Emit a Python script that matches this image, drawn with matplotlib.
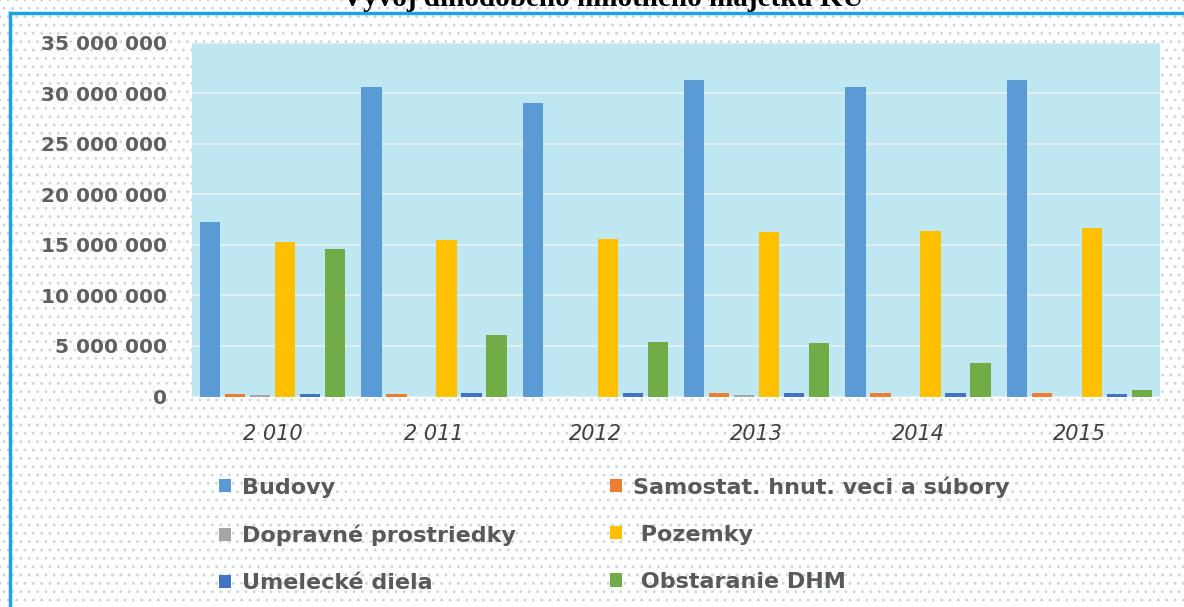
import matplotlib
matplotlib.use("Agg")
import matplotlib.pyplot as plt
import numpy as np
from matplotlib.patches import Rectangle
from matplotlib.lines import Line2D
from matplotlib.ticker import FuncFormatter

years = ["2 010", "2 011", "2012", "2013", "2014", "2015"]
series_names = ["Budovy", "Samostat. hnut. veci a súbory", "Dopravné prostriedky",
                " Pozemky", "Umelecké diela", " Obstaranie DHM"]
budovy = [17.3e6, 30.6e6, 29.0e6, 31.3e6, 30.6e6, 31.3e6]
samostat = [0.2e6, 0.2e6, 0.0, 0.33e6, 0.33e6, 0.3e6]
dopravne = [0.15e6, 0.0, 0.0, 0.15e6, 0.0, 0.0]
pozemky = [15.3e6, 15.5e6, 15.6e6, 16.25e6, 16.4e6, 16.65e6]
umelecke = [0.2e6, 0.33e6, 0.33e6, 0.33e6, 0.33e6, 0.25e6]
obstaranie = [14.6e6, 6.1e6, 5.4e6, 5.3e6, 3.3e6, 0.6e6]
colors = ["#5b9bd5", "#ed7d31", "#a5a5a5", "#ffc000", "#4472c4", "#70ad47"]
title = "Vývoj dlhodobého hmotného majetku KÚ"

plt.rcParams["hatch.linewidth"] = 0.9
W, H = 1184, 607
fig = plt.figure(figsize=(W / 100, H / 100), dpi=100)

# dotted background
bg = Rectangle((0, 0), 1, 1, transform=fig.transFigure, facecolor="white",
               edgecolor="#cfd6de", hatch="..", linewidth=0, zorder=-10)
fig.patches.append(bg)

# borders
fig.add_artist(Line2D([10 / W, 1], [1 - 13 / H, 1 - 13 / H], transform=fig.transFigure,
                      color="#1ba3e3", lw=2.5))
fig.add_artist(Line2D([10 / W, 10 / W], [0, 1 - 13 / H], transform=fig.transFigure,
                      color="#1ba3e3", lw=2.5))

fig.text(603 / W, 1 - 6 / H, title, ha="center", va="baseline",
         fontfamily="Liberation Serif", fontweight="bold", fontsize=21, color="black")

ax = fig.add_axes([192 / W, 1 - 396.5 / H, (1160 - 192) / W, (396.5 - 42.5) / H])
ax.set_facecolor("#bfe7f1")
for s in ax.spines.values():
    s.set_visible(False)

data = [budovy, samostat, dopravne, pozemky, umelecke, obstaranie]
x = np.arange(len(years))
pitch = 0.155
width = 0.125
handles = []
for i, (vals, name, c) in enumerate(zip(data, series_names, colors)):
    b = ax.bar(x + (i - 2.5) * pitch, vals, width=width, color=c, label=name, zorder=3)
    handles.append(b)

ax.set_xlim(-0.5, len(years) - 0.5)
ax.set_ylim(0, 35e6)
ax.set_yticks(np.arange(0, 35e6 + 1, 5e6))
ax.yaxis.set_major_formatter(FuncFormatter(lambda v, p: f"{int(v):,}".replace(",", " ")))
ax.grid(axis="y", color="#e6f3f6", lw=1.2, zorder=1)
ax.set_axisbelow(True)
ax.tick_params(axis="y", length=0, pad=18, labelsize=14.5, labelcolor="#5f5f5f")
ax.tick_params(axis="x", length=0, pad=20, labelsize=15, labelcolor="#404040")
ax.set_xticks(x)
ax.set_xticklabels(years, fontstyle="italic")
for t in ax.get_yticklabels():
    t.set_fontweight("semibold")

order = [0, 2, 4, 1, 3, 5]
leg = fig.legend([handles[i] for i in order], [series_names[i] for i in order],
                 ncol=2, loc="upper left", bbox_to_anchor=(199 / W, 1 - 456 / H),
                 frameon=False, prop={"size": 16, "weight": "bold"},
                 handlelength=0.55, handleheight=0.55,
                 handletextpad=0.5, columnspacing=4.2, labelspacing=1.22,
                 labelcolor="#595959")

fig.savefig("out.png", dpi=100)
